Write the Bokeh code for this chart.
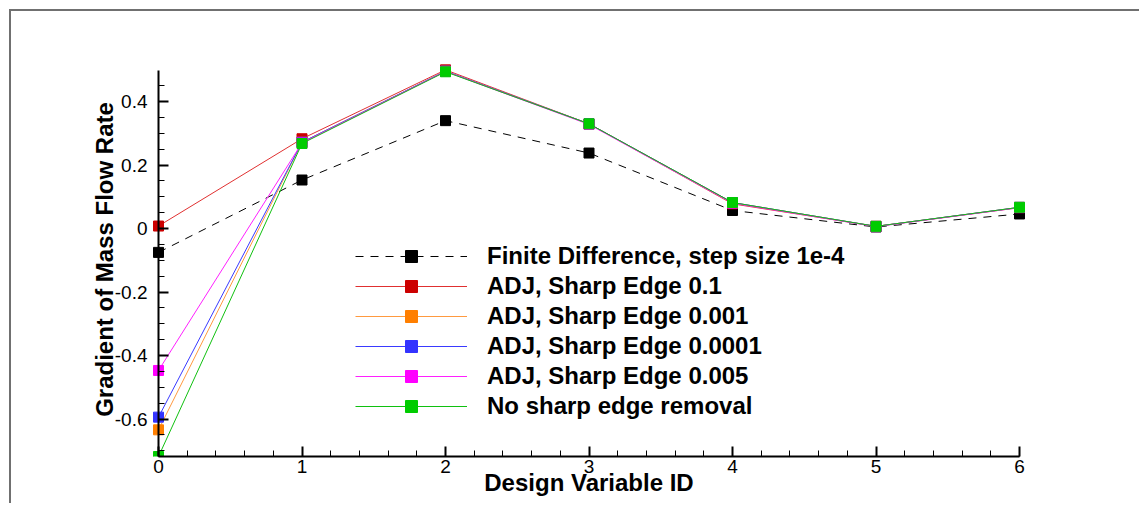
from bokeh.plotting import figure
from bokeh.models import (Range1d, SingleIntervalTicker, Legend, LegendItem, LinearAxis,
                          CustomJSTickFormatter)
from bokeh.embed import file_html
from bokeh.resources import INLINE

# ---- data ----
design_ids = [0, 1, 2, 3, 4, 5, 6]
fd_step_1e4 = [-0.075, 0.153, 0.340, 0.238, 0.057, 0.005, 0.046]
adj_se_0p1 = [0.008, 0.283, 0.500, 0.330, 0.078, 0.007, 0.066]
adj_se_0p001 = [-0.634, 0.272, 0.496, 0.330, 0.082, 0.007, 0.067]
adj_se_0p0001 = [-0.594, 0.272, 0.496, 0.330, 0.082, 0.007, 0.067]
adj_se_0p005 = [-0.447, 0.270, 0.495, 0.328, 0.080, 0.006, 0.066]
no_sharp_edge = [-0.718, 0.268, 0.494, 0.330, 0.082, 0.007, 0.067]

series_labels = [
    "Finite Difference, step size 1e-4",
    "ADJ, Sharp Edge 0.1",
    "ADJ, Sharp Edge 0.001",
    "ADJ, Sharp Edge 0.0001",
    "ADJ, Sharp Edge 0.005",
    "No sharp edge removal",
]
series_values = [fd_step_1e4, adj_se_0p1, adj_se_0p001, adj_se_0p0001, adj_se_0p005, no_sharp_edge]
line_colors = ["#000000", "#e03030", "#ff9a40", "#3a3aff", "#ff20ff", "#10c010"]
marker_colors = ["#000000", "#cc0000", "#ff7f00", "#3333ff", "#ff00ff", "#00cc00"]
line_dashes = ["8 7", "solid", "solid", "solid", "solid", "solid"]

x_lo, x_hi = 0, 6
y_lo, y_hi = -0.718, 0.498

FONT = "Liberation Sans"

W, H = 1130, 494
pad_x = 8 / 143.5
pad_top = 8 / 317.4

p = figure(
    width=W, height=H,
    output_backend="svg", toolbar_location=None,
    x_range=Range1d(x_lo - pad_x, x_hi + pad_x),
    y_range=Range1d(y_lo, y_hi + pad_top),
    min_border_left=139, min_border_right=W - 1016,
    min_border_top=51, min_border_bottom=H - 445,
)
p.styles = {
    "margin-left": "9px", "margin-top": "9px",
    "border-top": "2px solid #707070", "border-left": "2px solid #707070",
}
p.outline_line_color = None
p.xgrid.visible = False
p.ygrid.visible = False
p.background_fill_color = "white"
p.border_fill_color = "white"


def style_axis(ax):
    ax.axis_line_width = 2
    ax.axis_line_color = "black"
    ax.major_tick_in = 10
    ax.major_tick_out = 0
    ax.minor_tick_in = 6
    ax.minor_tick_out = 0
    ax.major_tick_line_width = 2
    ax.minor_tick_line_width = 1
    ax.major_tick_line_color = "black"
    ax.minor_tick_line_color = "black"
    ax.major_label_text_font = FONT
    ax.major_label_text_font_size = "19px"
    ax.major_label_text_color = "black"
    ax.axis_label_text_font = FONT
    ax.axis_label_text_font_size = "24px"
    ax.axis_label_text_font_style = "bold"
    ax.axis_label_text_color = "black"


# x axis
xax = p.xaxis[0]
style_axis(xax)
xax.ticker = SingleIntervalTicker(interval=1, num_minor_ticks=5)
xax.bounds = (x_lo, x_hi)
xax.axis_label = "Design Variable ID"
xax.major_label_standoff = 3
xax.axis_label_standoff = -7

# y axis: tick labels + title at the frame edge
yax = p.yaxis[0]
style_axis(yax)
yax.ticker = SingleIntervalTicker(interval=0.2, num_minor_ticks=4)
yax.formatter = CustomJSTickFormatter(
    code="return Math.abs(tick) < 1e-9 ? '0' : tick.toFixed(1);")
yax.bounds = (y_lo, y_hi)
yax.axis_line_color = None
yax.major_tick_line_color = None
yax.minor_tick_line_color = None
yax.major_tick_in = 0
yax.minor_tick_in = 0
yax.major_label_standoff = 3
yax.axis_label = "Gradient of Mass Flow Rate"
yax.axis_label_standoff = -6

# y axis line and ticks through x = 0
yrule = LinearAxis(fixed_location=0,
                   ticker=SingleIntervalTicker(interval=0.2, num_minor_ticks=4),
                   formatter=CustomJSTickFormatter(code="return ''"))
style_axis(yrule)
yrule.bounds = (y_lo, y_hi)
yrule.major_label_standoff = 0
p.add_layout(yrule, "left")

items = []
for lab, vals, lc, mc, dash in zip(series_labels, series_values, line_colors, marker_colors, line_dashes):
    r_line = p.line(design_ids, vals, line_color=lc, line_width=1, line_dash=dash)
    r_mark = p.scatter(design_ids, vals, marker="square", size=10, fill_color=mc, line_color=mc)
    items.append(LegendItem(label=lab, renderers=[r_line, r_mark]))

legend = Legend(
    items=items,
    location=(205, 35.5),
    glyph_width=112, glyph_height=30,
    label_height=30, label_standoff=20,
    spacing=0, padding=0, margin=0,
    border_line_alpha=0, background_fill_alpha=0,
    label_text_font=FONT, label_text_font_size="24px",
    label_text_font_style="bold", label_text_color="black",
)
p.add_layout(legend, "center")

open("out.html", "w").write(file_html(p, INLINE))
